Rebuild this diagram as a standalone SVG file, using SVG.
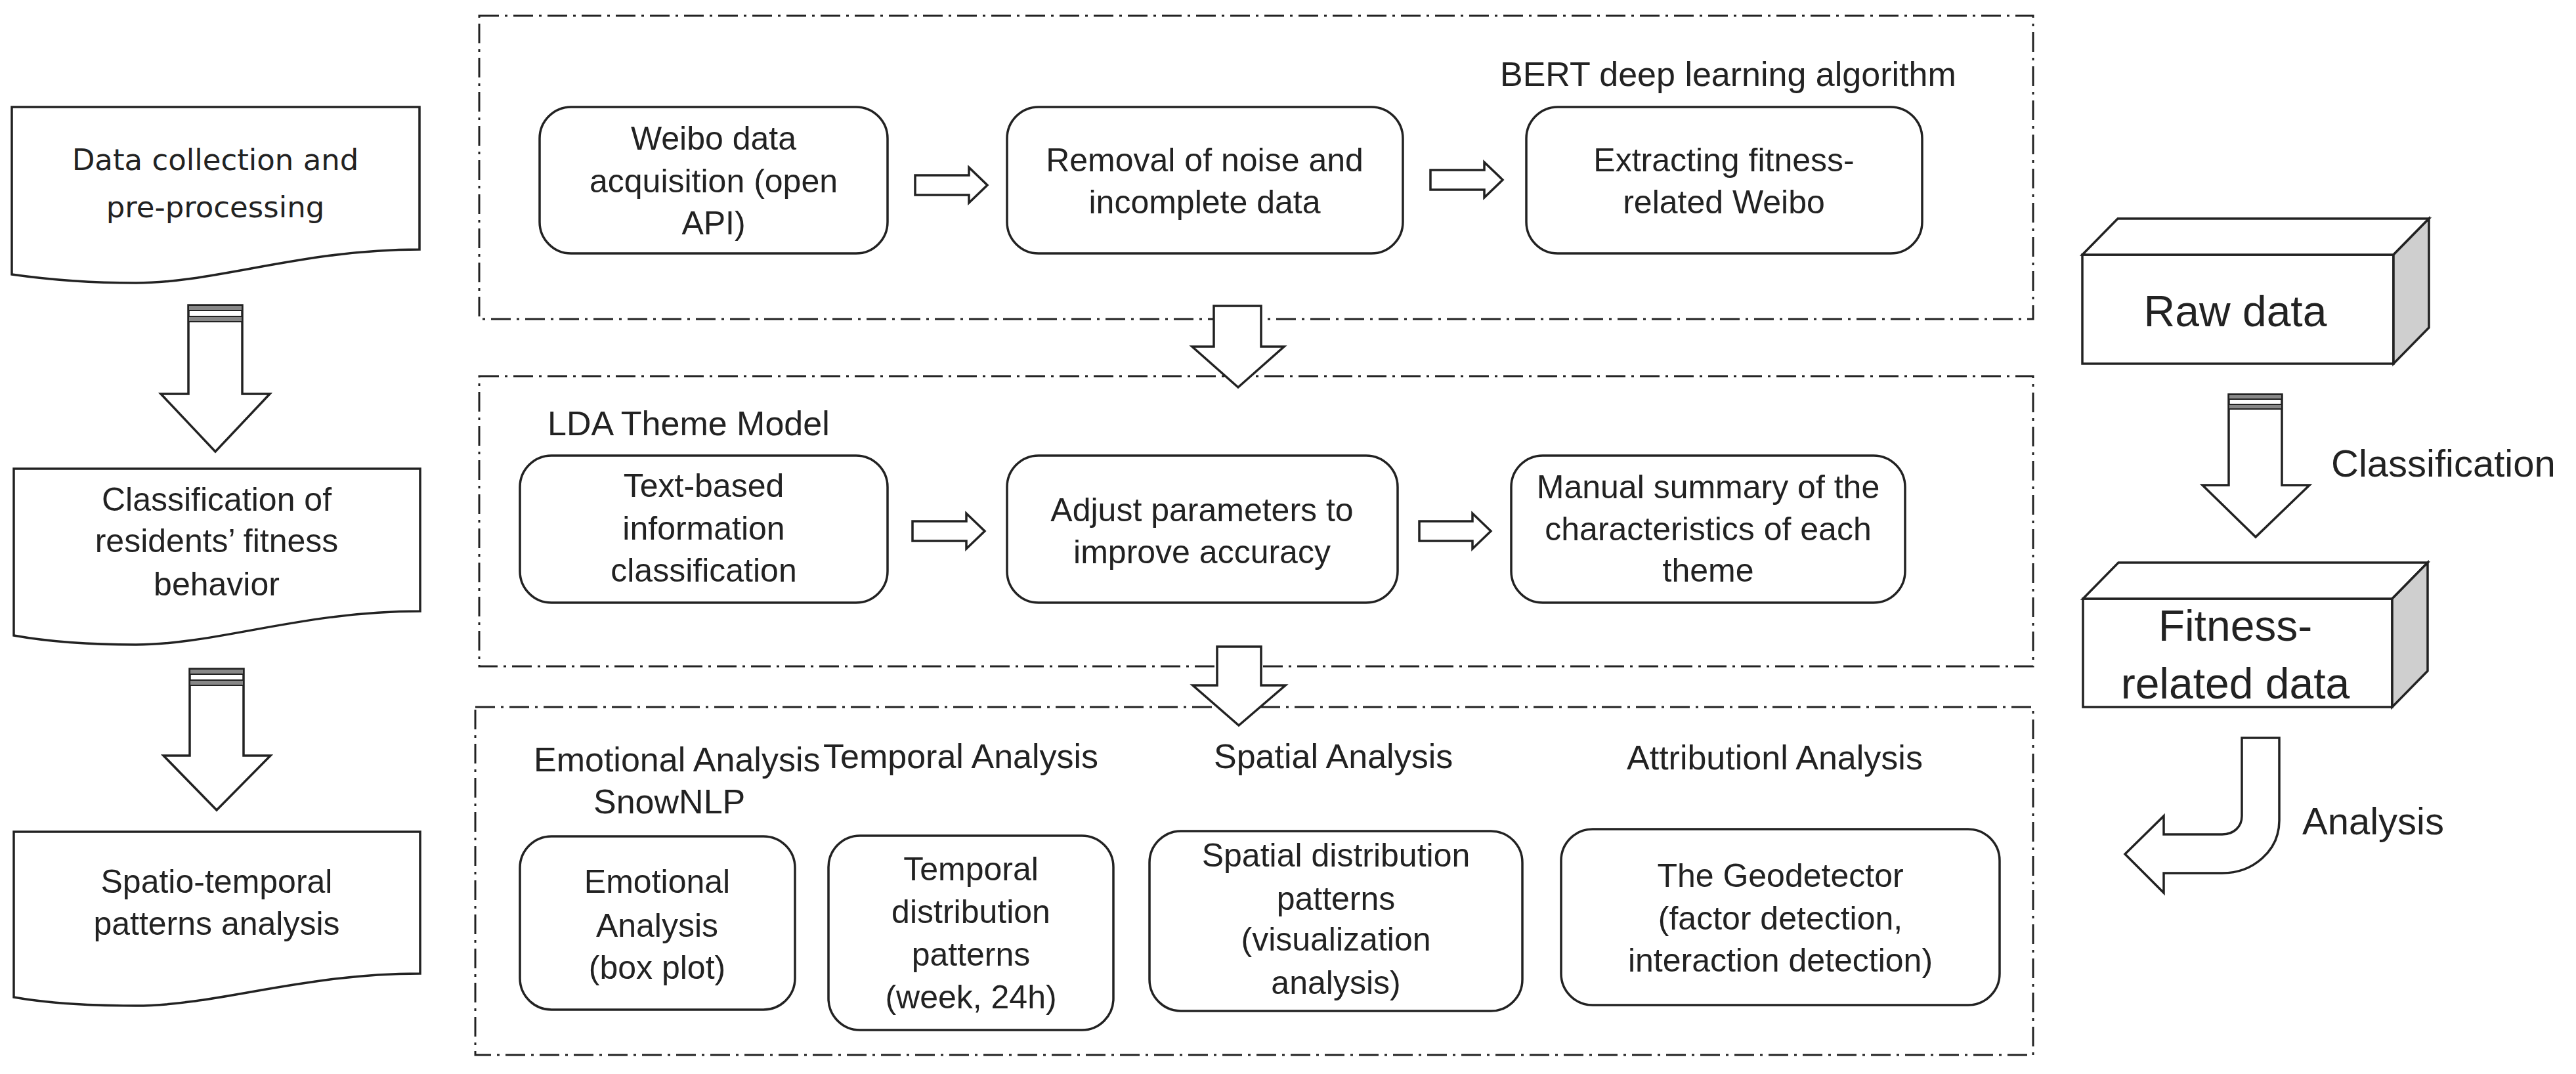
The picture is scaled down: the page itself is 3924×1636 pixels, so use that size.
<svg xmlns="http://www.w3.org/2000/svg" width="3924" height="1636" viewBox="0 0 3924 1636">
<style>
.dash{fill:none;stroke:#222;stroke-width:3;stroke-dasharray:30 9 4 9}
.box{fill:#fff;stroke:#222;stroke-width:3.5}
.arr{fill:#fff;stroke:#222;stroke-width:3.5;stroke-linejoin:miter}
.t{font-family:"Liberation Sans",Arial,sans-serif;font-size:50px;fill:#222;text-anchor:middle}
.l{font-family:"Liberation Sans",Arial,sans-serif;font-size:52px;fill:#222}
.big{font-family:"Liberation Sans",Arial,sans-serif;fill:#222}
.stripe{fill:#888;stroke:#222;stroke-width:2}
</style>
<rect width="3924" height="1636" fill="#fff"/>
<g id="frames">
<rect class="dash" x="730" y="24" width="2367" height="462"/>
<rect class="dash" x="730" y="573" width="2367" height="442"/>
<rect class="dash" x="724" y="1077" width="2373" height="530"/>
</g>
<g id="doc1">
<path class="box" d="M18,163 H639 V380 C460,380 330,431 207,431 C120,431 60,424 18,418 Z"/>
<text x="328" y="259" text-anchor="middle" font-family="DejaVu Sans,sans-serif" font-size="45" fill="#222">Data collection and</text>
<text x="328" y="331" text-anchor="middle" font-family="DejaVu Sans,sans-serif" font-size="45" fill="#222">pre-processing</text>
</g>
<g id="doc2">
<path class="box" d="M21,714 H640 V931 C460,931 330,982 207,982 C120,982 60,975 21,968 Z"/>
<text class="t" x="330" y="778">Classification of</text>
<text class="t" x="330" y="841">residents’ fitness</text>
<text class="t" x="330" y="907">behavior</text>
</g>
<g id="doc3">
<path class="box" d="M21,1267 H640 V1483 C460,1483 330,1532 207,1532 C120,1532 60,1526 21,1519 Z"/>
<text class="t" x="330" y="1360">Spatio-temporal</text>
<text class="t" x="330" y="1424">patterns analysis</text>
</g>
<g id="labels">
<text class="l" x="2285" y="131">BERT deep learning algorithm</text>
<text class="l" x="834" y="663">LDA Theme Model</text>
<text class="l" x="813" y="1175">Emotional Analysis</text>
<text class="l" x="904" y="1239">SnowNLP</text>
<text class="l" x="1254" y="1170">Temporal  Analysis</text>
<text class="l" x="1849" y="1170">Spatial Analysis</text>
<text class="l" x="2478" y="1172">Attributionl Analysis</text>
</g>
<g id="weibo">
<rect class="box" x="822" y="163" width="530" height="223" rx="48"/>
<text class="t" x="1087" y="228">Weibo data</text>
<text class="t" x="1087" y="293">acquisition (open</text>
<text class="t" x="1087" y="357">API)</text>
</g>
<g id="removal">
<rect class="box" x="1534" y="163" width="603" height="223" rx="48"/>
<text class="t" x="1835" y="261">Removal of noise and</text>
<text class="t" x="1835" y="325">incomplete data</text>
</g>
<g id="extract">
<rect class="box" x="2325" y="163" width="603" height="223" rx="48"/>
<text class="t" x="2626" y="261">Extracting fitness-</text>
<text class="t" x="2626" y="325">related Weibo</text>
</g>
<g id="textbased">
<rect class="box" x="792" y="694" width="560" height="224" rx="48"/>
<text class="t" x="1072" y="757">Text-based</text>
<text class="t" x="1072" y="822">information</text>
<text class="t" x="1072" y="886">classification</text>
</g>
<g id="adjust">
<rect class="box" x="1534" y="694" width="595" height="224" rx="48"/>
<text class="t" x="1831" y="794">Adjust parameters to</text>
<text class="t" x="1831" y="858">improve accuracy</text>
</g>
<g id="manual">
<rect class="box" x="2302" y="694" width="600" height="224" rx="48"/>
<text class="t" x="2602" y="759">Manual summary of the</text>
<text class="t" x="2602" y="823">characteristics of each</text>
<text class="t" x="2602" y="886">theme</text>
</g>
<g id="emotional">
<rect class="box" x="792" y="1274" width="419" height="264" rx="48"/>
<text class="t" x="1001" y="1360">Emotional</text>
<text class="t" x="1001" y="1427">Analysis</text>
<text class="t" x="1001" y="1491">(box plot)</text>
</g>
<g id="temporal">
<rect class="box" x="1262" y="1273" width="434" height="296" rx="48"/>
<text class="t" x="1479" y="1341">Temporal</text>
<text class="t" x="1479" y="1406">distribution</text>
<text class="t" x="1479" y="1471">patterns</text>
<text class="t" x="1479" y="1536">(week, 24h)</text>
</g>
<g id="spatial">
<rect class="box" x="1751" y="1266" width="568" height="274" rx="48"/>
<text class="t" x="2035" y="1320">Spatial distribution</text>
<text class="t" x="2035" y="1386">patterns</text>
<text class="t" x="2035" y="1448">(visualization</text>
<text class="t" x="2035" y="1514">analysis)</text>
</g>
<g id="geodetector">
<rect class="box" x="2378" y="1263" width="668" height="268" rx="48"/>
<text class="t" x="2712" y="1351">The Geodetector</text>
<text class="t" x="2712" y="1416">(factor detection,</text>
<text class="t" x="2712" y="1480">interaction detection)</text>
</g>
<g id="rawdata">
<rect class="box" x="3172" y="388" width="474" height="166"/>
<polygon class="box" points="3172,388 3226,333 3700,333 3646,388"/>
<polygon class="box" style="fill:#cfcfcf" points="3646,388 3700,333 3700,499 3646,554"/>
<text class="big" x="3405" y="497" font-size="66" text-anchor="middle">Raw data</text>
</g>
<g id="fitnessdata">
<rect class="box" x="3173" y="912" width="471" height="165"/>
<polygon class="box" points="3173,912 3227,857 3698,857 3644,912"/>
<polygon class="box" style="fill:#cfcfcf" points="3644,912 3698,857 3698,1022 3644,1077"/>
<text class="big" x="3405" y="976" font-size="66" text-anchor="middle">Fitness-</text>
<text class="big" x="3405" y="1064" font-size="66" text-anchor="middle">related data</text>
</g>
<g id="connectors">
<polygon class="arr" points="1394,267 1476,267 1476,255 1504,282 1476,309 1476,297 1394,297"/>
<polygon class="arr" points="2179,259 2261,259 2261,247 2289,274 2261,301 2261,289 2179,289"/>
<polygon class="arr" points="1390,794 1472,794 1472,782 1500,809 1472,836 1472,824 1390,824"/>
<polygon class="arr" points="2162,794 2243,794 2243,782 2271,809 2243,836 2243,824 2162,824"/>
<polygon class="arr" points="1849,466 1921,466 1921,528 1956,528 1886,590 1816,528 1849,528"/>
<polygon class="arr" points="1854,985 1921,985 1921,1044 1958,1044 1887,1105 1817,1044 1854,1044"/>
<polygon class="arr" points="287,465 369,465 369,600 411,600 328,688 245,600 287,600"/>
<rect class="stripe" x="287" y="465" width="82" height="8"/>
<rect class="stripe" x="287" y="482" width="82" height="8"/>
<polygon class="arr" points="289,1019 371,1019 371,1151 412,1151 330,1234 249,1151 289,1151"/>
<rect class="stripe" x="289" y="1019" width="82" height="8"/>
<rect class="stripe" x="289" y="1036" width="82" height="8"/>
<polygon class="arr" points="3395,601 3476,601 3476,739 3518,739 3436,818 3355,739 3395,739"/>
<rect class="stripe" x="3395" y="601" width="81" height="7"/>
<rect class="stripe" x="3395" y="616" width="81" height="7"/>
<path class="arr" d="M3415,1124 H3472 V1250 C3472,1296 3432,1330 3385,1330 H3296 V1360 L3237,1301 L3296,1243 V1271 H3385 C3402,1271 3415,1260 3415,1243 Z"/>
<text class="big" x="3551" y="726" font-size="58">Classification</text>
<text class="big" x="3507" y="1271" font-size="58">Analysis</text>
</g>
</svg>
